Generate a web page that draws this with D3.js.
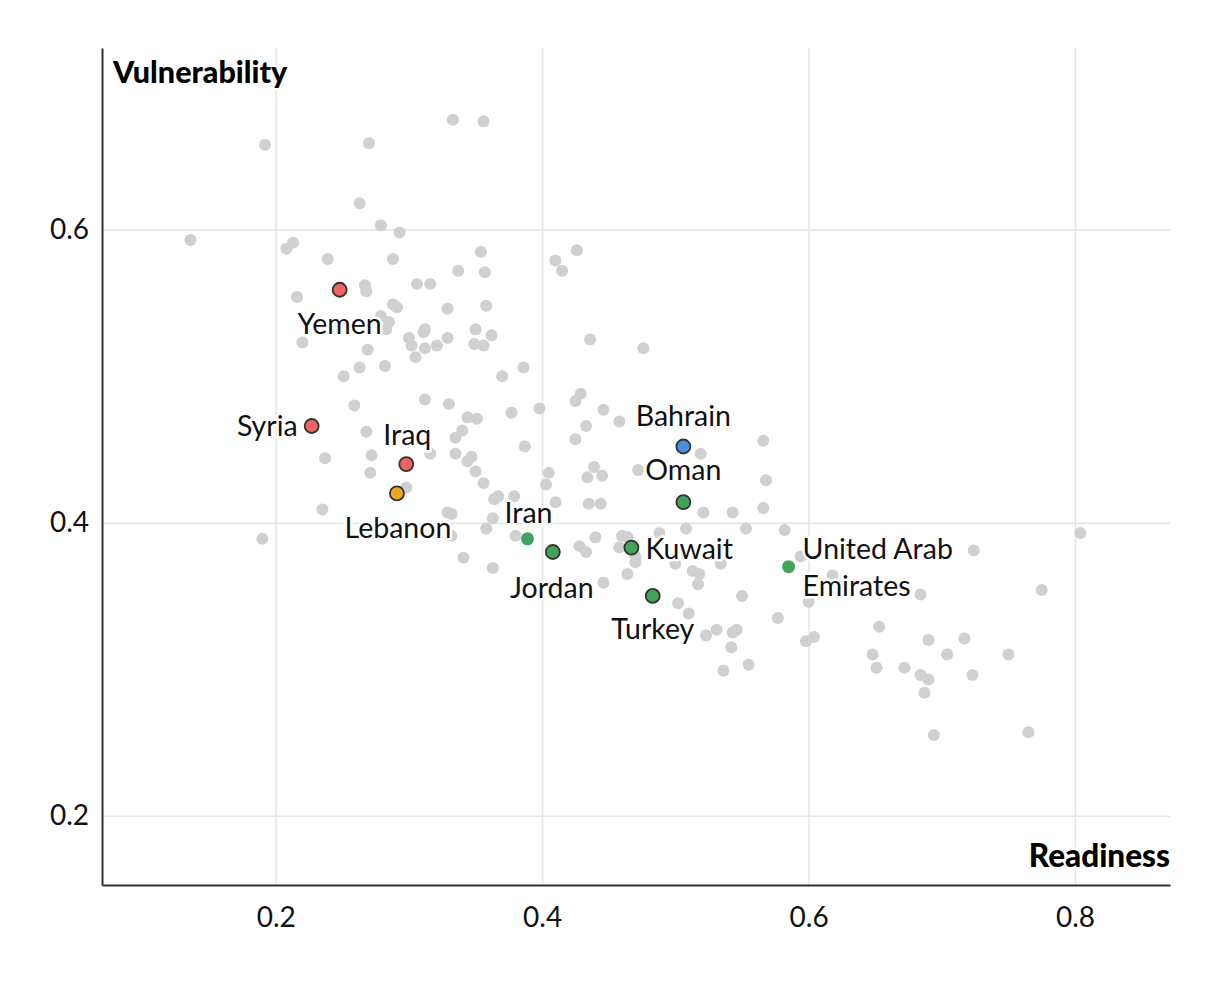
<!DOCTYPE html>
<html>
<head>
<meta charset="utf-8">
<script src="https://cdn.jsdelivr.net/npm/d3@7"></script>
<style>
  html, body { margin: 0; padding: 0; background: #fff; }
  svg { display: block; font-family: Lato, "Noto Sans", sans-serif; }
</style>
</head>
<body>
<svg id="chart" width="1220" height="1008"></svg>
<script>
// ---- Data (Readiness, Vulnerability) ----
const otherReadiness = [
  0.136,0.192,0.270,0.333,0.356,0.263,0.279,0.293,0.213,0.208,
  0.239,0.288,0.354,0.337,0.357,0.306,0.316,0.267,0.268,0.216,
  0.288,0.291,0.329,0.358,0.279,0.285,0.283,0.312,0.311,0.350,
  0.362,0.300,0.302,0.305,0.329,0.321,0.312,0.349,0.356,0.220,
  0.269,0.263,0.282,0.251,0.370,0.386,0.426,0.410,0.415,0.436,
  0.476,0.259,0.312,0.330,0.344,0.351,0.377,0.398,0.425,0.429,
  0.446,0.433,0.458,0.268,0.335,0.340,0.387,0.425,0.566,0.519,
  0.237,0.272,0.316,0.335,0.344,0.347,0.271,0.350,0.405,0.403,
  0.439,0.434,0.445,0.472,0.568,0.356,0.298,0.364,0.367,0.379,
  0.410,0.435,0.444,0.521,0.543,0.566,0.235,0.329,0.332,0.363,
  0.358,0.332,0.380,0.190,0.428,0.433,0.440,0.460,0.464,0.458,
  0.488,0.508,0.553,0.582,0.341,0.363,0.446,0.470,0.470,0.464,
  0.500,0.513,0.518,0.517,0.534,0.550,0.502,0.510,0.577,0.523,
  0.531,0.543,0.546,0.542,0.555,0.536,0.594,0.618,0.600,0.598,
  0.604,0.684,0.724,0.804,0.775,0.653,0.648,0.651,0.672,0.690,
  0.717,0.704,0.750,0.684,0.690,0.723,0.687,0.694,0.765
];
const otherVulnerability = [
  0.593,0.658,0.659,0.675,0.674,0.618,0.603,0.598,0.591,0.587,
  0.580,0.580,0.585,0.572,0.571,0.563,0.563,0.562,0.558,0.554,
  0.549,0.547,0.546,0.548,0.541,0.537,0.532,0.532,0.530,0.532,
  0.528,0.526,0.521,0.513,0.526,0.521,0.519,0.522,0.521,0.523,
  0.518,0.506,0.507,0.500,0.500,0.506,0.586,0.579,0.572,0.525,
  0.519,0.480,0.484,0.481,0.472,0.471,0.475,0.478,0.483,0.488,
  0.477,0.466,0.469,0.462,0.458,0.463,0.452,0.457,0.456,0.447,
  0.444,0.446,0.447,0.447,0.442,0.445,0.434,0.435,0.434,0.426,
  0.438,0.431,0.432,0.436,0.429,0.427,0.424,0.416,0.418,0.418,
  0.414,0.413,0.413,0.407,0.407,0.410,0.409,0.407,0.406,0.403,
  0.396,0.391,0.391,0.389,0.384,0.380,0.390,0.391,0.390,0.383,
  0.393,0.396,0.396,0.395,0.376,0.369,0.359,0.373,0.377,0.365,
  0.372,0.367,0.365,0.358,0.372,0.350,0.345,0.338,0.335,0.323,
  0.327,0.325,0.327,0.315,0.303,0.299,0.377,0.364,0.346,0.319,
  0.322,0.351,0.381,0.393,0.354,0.329,0.310,0.301,0.301,0.320,
  0.321,0.310,0.310,0.296,0.293,0.296,0.284,0.255,0.257
];

const countries    = ["Yemen","Syria","Iraq","Lebanon","Iran","Jordan","Kuwait","Turkey","Oman","Bahrain","United Arab Emirates"];
const readiness    = [0.248, 0.227, 0.298, 0.291, 0.389, 0.408, 0.467, 0.483, 0.506, 0.506, 0.585];
const vulnerability= [0.559, 0.466, 0.440, 0.420, 0.389, 0.380, 0.383, 0.350, 0.414, 0.452, 0.370];
const group        = ["conflict","conflict","conflict","lebanon","gcc-open","gcc","gcc","gcc","gcc","bahrain","gcc-open"];

const xTicks = [0.2, 0.4, 0.6, 0.8];
const yTicks = [0.2, 0.4, 0.6];
const xTitle = "Readiness";
const yTitle = "Vulnerability";

// ---- Styling / layout ----
const colors = {conflict:"#ef6461", lebanon:"#eba91f", gcc:"#43a35b", "gcc-open":"#43a35b", bahrain:"#4a8fe0"};
// label placement: [anchor, dx, dy(first baseline)]
const labelPlacement = {
  "Yemen":["middle",0,44], "Syria":["end",-14,10], "Iraq":["middle",1,-19],
  "Lebanon":["middle",1,45], "Iran":["middle",1,-16], "Jordan":["middle",-1,46],
  "Kuwait":["start",14,11], "Turkey":["middle",0,43], "Oman":["middle",0,-22],
  "Bahrain":["middle",0,-21], "United Arab Emirates":["start",14,-8]
};
const labelLines = {"United Arab Emirates":["United Arab","Emirates"]};

const svg = d3.select("#chart");
const L = 102, R = 1170, T = 48, B = 885;

const x = d3.scaleLinear().domain([0.0696, 0.8713]).range([L, R]);
const y = d3.scaleLinear().domain([0.1527, 0.724]).range([B, T]);

// gridlines
const grid = svg.append("g");
grid.append("g").attr("transform", `translate(0,${B})`)
  .call(d3.axisBottom(x).tickValues(xTicks).tickSize(-(B - T)).tickFormat(""))
  .call(g => g.select(".domain").remove())
  .call(g => g.selectAll("line").attr("stroke", "#e6e6e6").attr("stroke-width", 1.6));
grid.append("g").attr("transform", `translate(${L},0)`)
  .call(d3.axisLeft(y).tickValues(yTicks).tickSize(-(R - L)).tickFormat(""))
  .call(g => g.select(".domain").remove())
  .call(g => g.selectAll("line").attr("stroke", "#e6e6e6").attr("stroke-width", 1.6));

// axes
const fmt = d3.format(".1f");
const xAxis = svg.append("g").attr("transform", `translate(0,${B})`)
  .call(d3.axisBottom(x).tickValues(xTicks).tickSize(0).tickSizeOuter(0).tickPadding(22).tickFormat(fmt));
const yAxis = svg.append("g").attr("transform", `translate(${L},0)`)
  .call(d3.axisLeft(y).tickValues(yTicks).tickSize(0).tickSizeOuter(0).tickPadding(13).tickFormat(fmt));
[xAxis, yAxis].forEach(a => {
  a.select(".domain").attr("stroke", "#333").attr("stroke-width", 2);
  a.selectAll("text").attr("font-family", "Lato, sans-serif").attr("font-size", 28).attr("fill", "#111");
});

// axis titles
svg.append("text").attr("x", L + 11).attr("y", 83).text(yTitle)
  .attr("font-weight", 900).attr("font-size", 30.5).attr("fill", "#000")
  .attr("stroke", "#fff").attr("stroke-width", 5).attr("paint-order", "stroke");
svg.append("text").attr("x", R).attr("y", 867).attr("text-anchor", "end").text(xTitle)
  .attr("font-weight", 900).attr("font-size", 31.5).attr("fill", "#000")
  .attr("stroke", "#fff").attr("stroke-width", 5).attr("paint-order", "stroke");

// grey dots
const others = otherReadiness.map((r, i) => ({r, v: otherVulnerability[i]}));
svg.append("g").selectAll("circle").data(others).join("circle")
  .attr("cx", d => x(d.r)).attr("cy", d => y(d.v)).attr("r", 6)
  .attr("fill", "#d0d0d0");

// highlighted
const hi = countries.map((c, i) => ({c, r: readiness[i], v: vulnerability[i], g: group[i]}));
svg.append("g").selectAll("circle").data(hi).join("circle")
  .attr("cx", d => x(d.r)).attr("cy", d => y(d.v))
  .attr("r", d => d.g === "gcc-open" ? 6.5 : 7)
  .attr("fill", d => colors[d.g])
  .attr("stroke", d => d.g === "gcc-open" ? "none" : "#333")
  .attr("stroke-width", 1.8);

// labels
const lg = svg.append("g");
hi.forEach(d => {
  const p = labelPlacement[d.c];
  const lines = labelLines[d.c] || [d.c];
  const t = lg.append("text")
    .attr("x", x(d.r) + p[1]).attr("y", y(d.v) + p[2])
    .attr("text-anchor", p[0])
    .attr("font-size", 28.5).attr("fill", "#111")
    .attr("stroke", "#fff").attr("stroke-width", 5).attr("stroke-linejoin", "round")
    .attr("paint-order", "stroke");
  lines.forEach((s, k) => t.append("tspan").attr("x", x(d.r) + p[1]).attr("dy", k === 0 ? 0 : 37).text(s));
});
</script>
</body>
</html>
